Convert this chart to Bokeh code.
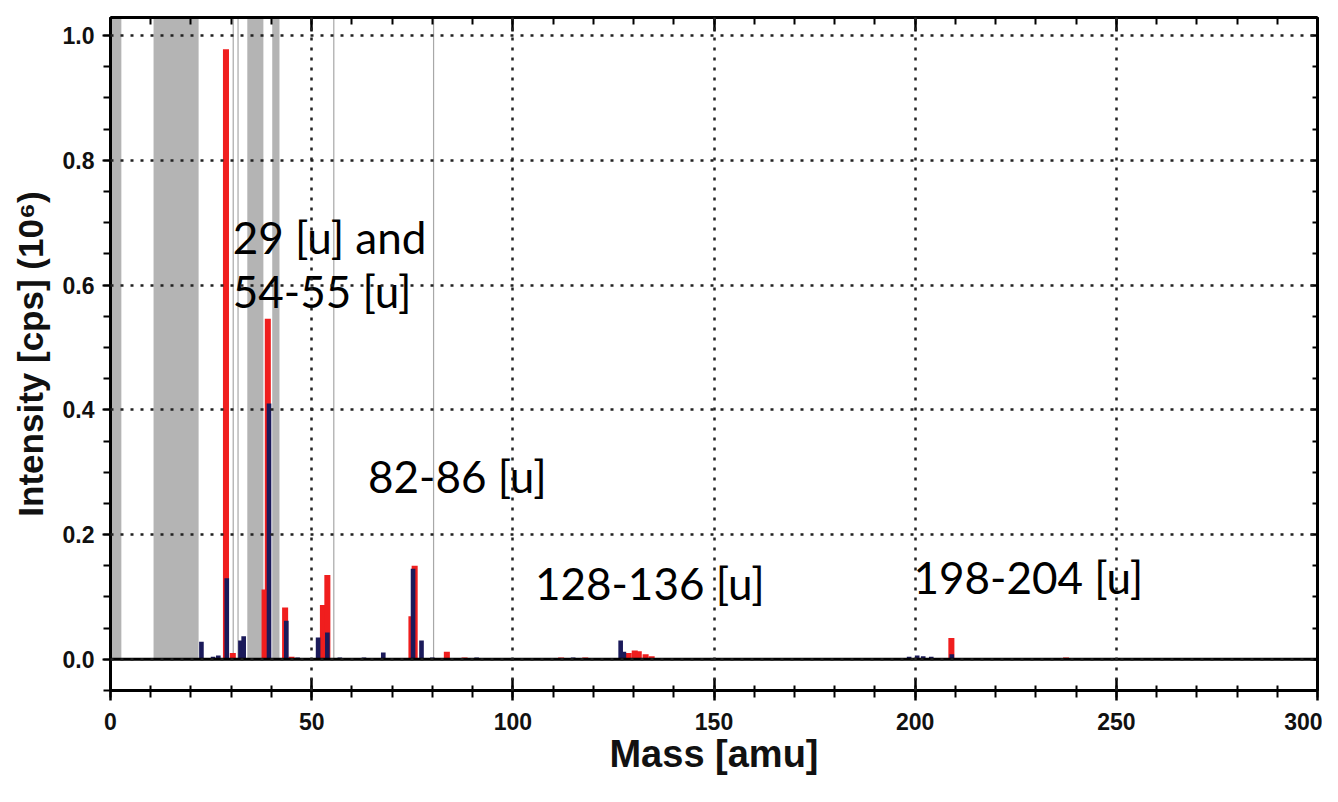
from bokeh.plotting import figure
from bokeh.models import (LinearAxis, SingleIntervalTicker, PrintfTickFormatter, Span,
                          ColumnDataSource, CustomJSTickFormatter)
from bokeh.embed import file_html
from bokeh.resources import INLINE
from bokeh.core.properties import value

# ---------------- data ----------------
x_major_interval = 50
y_major_interval = 0.2

band_start = [0.0, 10.7, 34.0, 40.2]
band_end = [2.7, 21.9, 38.0, 42.0]
marker_lines = [30.5, 31.7, 55.5, 80.3]

red_mass = [28.7, 30.4, 38.3, 39.1, 43.4, 45.0, 52.8, 53.9, 74.8, 75.6,
            83.6, 88.0, 104.0, 112.0, 118.0, 128.8, 130.3, 131.3, 133.0, 134.5,
            209.0, 237.5]
red_int = [0.978, 0.010, 0.112, 0.546, 0.083, 0.004, 0.087, 0.135, 0.069, 0.150,
           0.012, 0.003, 0.002, 0.003, 0.003, 0.010, 0.014, 0.013, 0.008, 0.005,
           0.034, 0.003]

navy_mass = [5.0, 12.0, 22.6, 25.5, 26.8, 28.9, 32.3, 33.1, 39.4, 43.7,
             46.5, 51.6, 53.9, 57.0, 60.0, 63.0, 67.8, 71.0, 75.2, 77.3,
             80.0, 86.0, 91.0, 97.0, 108.0, 115.0, 121.0, 126.8, 127.6, 140.0,
             147.0, 155.0, 163.0, 171.0, 180.0, 188.0, 198.5, 200.5, 202.0, 204.0,
             209.1]
navy_int = [0.002, 0.002, 0.028, 0.004, 0.006, 0.130, 0.030, 0.037, 0.410, 0.062,
            0.003, 0.035, 0.043, 0.003, 0.002, 0.003, 0.011, 0.002, 0.145, 0.030,
            0.003, 0.002, 0.003, 0.002, 0.002, 0.003, 0.002, 0.030, 0.012, 0.002,
            0.002, 0.002, 0.002, 0.002, 0.002, 0.002, 0.004, 0.006, 0.005, 0.004,
            0.008]

note_text = ["29 [u] and", "54-55 [u]", "82-86 [u]", "128-136 [u]", "198-204 [u]"]
note_x = [30.4, 30.4, 64.0, 105.5, 199.6]
note_y = [0.677, 0.590, 0.294, 0.122, 0.132]

X_MIN, X_MAX = 0, 300
Y_MIN, Y_MAX = -0.05, 1.029

# ---------------- figure ----------------
TICK_FONT = "Liberation Sans"

p = figure(width=1322, height=786, x_range=(X_MIN, X_MAX), y_range=(Y_MIN, Y_MAX),
           output_backend="svg", toolbar_location=None,
           min_border_left=110, min_border_right=5, min_border_top=17, min_border_bottom=96)
p.background_fill_color = "white"
p.border_fill_color = "white"
p.outline_line_color = "black"
p.outline_line_width = 2

# shaded bands
p.quad(left=band_start, right=band_end, bottom=0, top=Y_MAX,
       fill_color="#b4b4b4", line_color=None)
# thin marker lines
p.segment(x0=marker_lines, y0=[0] * len(marker_lines), x1=marker_lines,
          y1=[Y_MAX] * len(marker_lines), line_color="#a8a8a8", line_width=1.2)

# spectra
p.vbar(x=red_mass, top=red_int, bottom=0, width=1.5, fill_color="#f01e1e", line_color=None)
p.vbar(x=navy_mass, top=navy_int, bottom=0, width=1.15, fill_color="#1b1a5a", line_color=None)

# zero baseline
p.add_layout(Span(location=0, dimension="width", line_color="black", line_width=3))

# grids
for g in (p.xgrid, p.ygrid):
    g.grid_line_color = "#222222"
    g.grid_line_dash = "3 7"
    g.grid_line_width = 2.5
    g.level = "overlay"
p.xgrid.ticker = SingleIntervalTicker(interval=x_major_interval)
p.ygrid.ticker = SingleIntervalTicker(interval=y_major_interval)

# bottom axis
xa = p.xaxis[0]
xa.ticker = SingleIntervalTicker(interval=x_major_interval, num_minor_ticks=5)
xa.axis_line_width = 3
xa.major_tick_line_width = 2.5
xa.minor_tick_line_width = 2
xa.major_tick_in = 12
xa.major_tick_out = 10
xa.minor_tick_in = 5
xa.minor_tick_out = 7
xa.major_label_standoff = 12
xa.major_label_text_font = TICK_FONT
xa.major_label_text_font_style = "bold"
xa.major_label_text_font_size = "23px"
xa.major_label_text_color = "#111111"
xa.axis_label = "Mass [amu]"
xa.axis_label_text_font = TICK_FONT
xa.axis_label_text_font_style = "bold"
xa.axis_label_text_font_size = "38px"
xa.axis_label_standoff = 0
xa.axis_label_text_color = "#111111"

# left axis
ya = p.yaxis[0]
ya.ticker = SingleIntervalTicker(interval=y_major_interval, num_minor_ticks=4)
ya.formatter = PrintfTickFormatter(format="%.1f")
ya.axis_line_width = 3
ya.major_tick_line_width = 2
ya.minor_tick_line_width = 2
ya.major_tick_in = 0
ya.major_tick_out = 8
ya.minor_tick_in = 0
ya.minor_tick_out = 7
ya.major_label_standoff = 8
ya.major_label_text_font = TICK_FONT
ya.major_label_text_font_style = "bold"
ya.major_label_text_font_size = "23px"
ya.major_label_text_color = "#111111"
ya.axis_label = "Intensity [cps] (10\u2076)"
ya.axis_label_text_font = TICK_FONT
ya.axis_label_text_font_style = "bold"
ya.axis_label_text_font_size = "35px"
ya.axis_label_standoff = 10
ya.axis_label_text_color = "#111111"

blank = CustomJSTickFormatter(code="return ''")

# top axis (ticks only)
ta = LinearAxis(ticker=SingleIntervalTicker(interval=x_major_interval, num_minor_ticks=5),
                formatter=blank,
                axis_line_width=3, major_tick_line_width=2.5, minor_tick_line_width=2,
                major_tick_in=14, major_tick_out=0, minor_tick_in=7, minor_tick_out=0,
                major_label_standoff=0)
p.add_layout(ta, "above")

# right axis (ticks only)
ra = LinearAxis(ticker=SingleIntervalTicker(interval=y_major_interval, num_minor_ticks=4),
                formatter=blank,
                axis_line_width=3, major_tick_line_width=2, minor_tick_line_width=2,
                major_tick_in=7, major_tick_out=0, minor_tick_in=5, minor_tick_out=0,
                major_label_standoff=0)
p.add_layout(ra, "right")

# annotations
src = ColumnDataSource(dict(x=note_x, y=note_y, t=note_text))
p.text(x="x", y="y", text="t", source=src, text_font=value("Lato"),
       text_font_size="44px", text_color="black", text_baseline="middle", text_align="left")

open("out.html", "w").write(file_html(p, INLINE))
